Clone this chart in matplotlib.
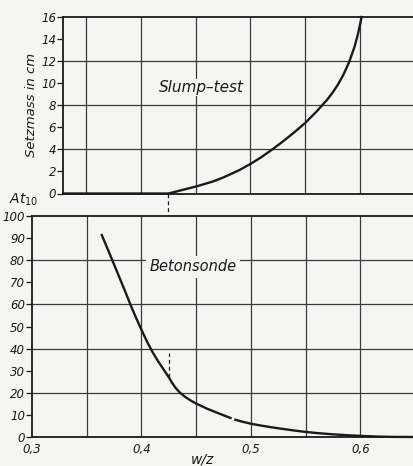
import numpy as np
import matplotlib
matplotlib.use("Agg")
import matplotlib.pyplot as plt
from matplotlib.ticker import MultipleLocator, FuncFormatter

plt.rcParams['font.family'] = ['DejaVu Sans']
plt.rcParams['mathtext.fontset'] = 'dejavusans'

# Slump-test: w/z vs Setzmass (cm)
slump_wz = [0.329, 0.425, 0.43, 0.435, 0.44, 0.445, 0.45, 0.455, 0.46, 0.465,
            0.47, 0.475, 0.48, 0.49, 0.50, 0.51, 0.52, 0.53, 0.54, 0.55,
            0.56, 0.57, 0.575, 0.58, 0.585, 0.59, 0.595, 0.598, 0.60, 0.6015]
slump_cm = [0, 0, 0.12, 0.25, 0.38, 0.5, 0.63, 0.77, 0.92, 1.07,
            1.25, 1.45, 1.67, 2.13, 2.68, 3.3, 4.0, 4.75, 5.55, 6.4,
            7.4, 8.5, 9.15, 9.9, 10.8, 11.9, 13.3, 14.4, 15.3, 16.0]

# Betonsonde: w/z vs At10 (gap in the printed line near 0.483)
sonde_wz = [0.3637, 0.37, 0.375, 0.38, 0.385, 0.39, 0.395, 0.40, 0.405, 0.41,
            0.415, 0.42, 0.425, 0.428, 0.431, 0.435, 0.44, 0.445, 0.45, 0.46, 0.47,
            0.4813, np.nan, 0.4858, 0.49, 0.50, 0.51, 0.52, 0.53, 0.54, 0.55,
            0.56, 0.575, 0.59, 0.60, 0.615, 0.63, 0.649]
sonde_at = [91.4, 84.0, 78.0, 72.0, 66.0, 59.8, 54.0, 48.5, 43.2, 38.5,
            34.4, 30.7, 27.0, 24.5, 22.3, 20.1, 18.1, 16.5, 15.1, 12.8, 10.8,
            8.6, np.nan, 7.8, 7.2, 6.0, 5.1, 4.3, 3.6, 2.9, 2.3,
            1.8, 1.2, 0.75, 0.5, 0.2, 0.05, 0.0]

marker_wz = 0.425
x_grid = [0.35, 0.40, 0.45, 0.50, 0.55, 0.60]
top_hgrid = [4, 8, 12]
bot_hgrid = [20, 40, 60, 80]
x_labels = [0.3, 0.4, 0.5, 0.6]

bg = '#f5f5f3'
ink = '#1a1a1a'
gridc = '#3a3a3a'

fig = plt.figure(figsize=(4.14, 4.66), dpi=100, facecolor=bg)
W, H = 414, 466

def axes_px(l, t, r, b):
    return fig.add_axes([l / W, 1 - b / H, (r - l) / W, (b - t) / H])

comma = FuncFormatter(lambda v, p: ('%g' % v).replace('.', ','))

# ---- top panel
ax1 = axes_px(63, 17, 414, 193.5)
ax1.set_facecolor(bg)
ax1.set_xlim(0.3288, 0.6493)
ax1.set_ylim(0, 16)
for x in x_grid:
    ax1.axvline(x, color=gridc, lw=0.9, zorder=1)
for y in top_hgrid:
    ax1.axhline(y, color=gridc, lw=0.9, zorder=1)
ax1.plot(slump_wz, slump_cm, color=ink, lw=1.7, zorder=4, clip_on=False)
ax1.plot([marker_wz, marker_wz], [0, -2.6], color=ink, lw=0.9, ls=(0, (3, 2.5)),
         clip_on=False, zorder=4)
ax1.set_xticks([])
ax1.yaxis.set_major_locator(MultipleLocator(2))
ax1.yaxis.set_major_formatter(comma)
ax1.tick_params(axis='y', direction='out', length=4, width=0.9, pad=1,
                labelsize=8.5, colors=ink)
for lab in ax1.get_yticklabels():
    lab.set_fontstyle('italic')
ax1.spines['right'].set_visible(False)
for s in ['left', 'top', 'bottom']:
    ax1.spines[s].set_linewidth(1.3)
    ax1.spines[s].set_color(ink)
ax1.set_ylabel('Setzmass in cm', fontsize=9.5, fontstyle='italic', color=ink, labelpad=2)
ax1.text(0.4553, 9.6, 'Slump–test', fontsize=11, fontstyle='italic', color=ink,
         ha='center', va='center', zorder=5,
         bbox=dict(facecolor=bg, edgecolor='none', pad=1))

# ---- bottom panel
ax2 = axes_px(32, 216, 414, 437)
ax2.set_facecolor(bg)
ax2.set_xlim(0.3, 0.6489)
ax2.set_ylim(0, 100)
for x in x_grid:
    ax2.axvline(x, color=gridc, lw=0.9, zorder=1)
for y in bot_hgrid:
    ax2.axhline(y, color=gridc, lw=0.9, zorder=1)
ax2.plot(sonde_wz, sonde_at, color=ink, lw=1.7, zorder=4, clip_on=False)
ax2.plot([marker_wz, marker_wz], [27, 38], color=ink, lw=0.9, ls=(0, (3, 2.5)), zorder=4)
ax2.set_xticks(x_labels)
ax2.xaxis.set_major_formatter(comma)
ax2.tick_params(axis='x', length=0, pad=4, labelsize=8.5, colors=ink)
ax2.yaxis.set_major_locator(MultipleLocator(10))
ax2.tick_params(axis='y', direction='out', length=4, width=0.9, pad=1,
                labelsize=8.5, colors=ink)
for lab in ax2.get_xticklabels() + ax2.get_yticklabels():
    lab.set_fontstyle('italic')
ax2.spines['right'].set_visible(False)
for s in ['left', 'top', 'bottom']:
    ax2.spines[s].set_linewidth(1.3)
    ax2.spines[s].set_color(ink)
ax2.text(0.4473, 77, 'Betonsonde', fontsize=10.5, fontstyle='italic', color=ink,
         ha='center', va='center', zorder=5,
         bbox=dict(facecolor=bg, edgecolor='none', pad=2.5))
ax2.set_xlabel('w/z', fontsize=10, fontstyle='italic', color=ink, labelpad=0)
ax2.xaxis.set_label_coords((202 - 32) / (414 - 32), -0.07)
fig.text(24 / W, 1 - 200 / H, r'$\mathit{At}_{10}$', fontsize=10, color=ink,
         ha='center', va='center')

fig.savefig('out.png', dpi=100, facecolor=bg)
